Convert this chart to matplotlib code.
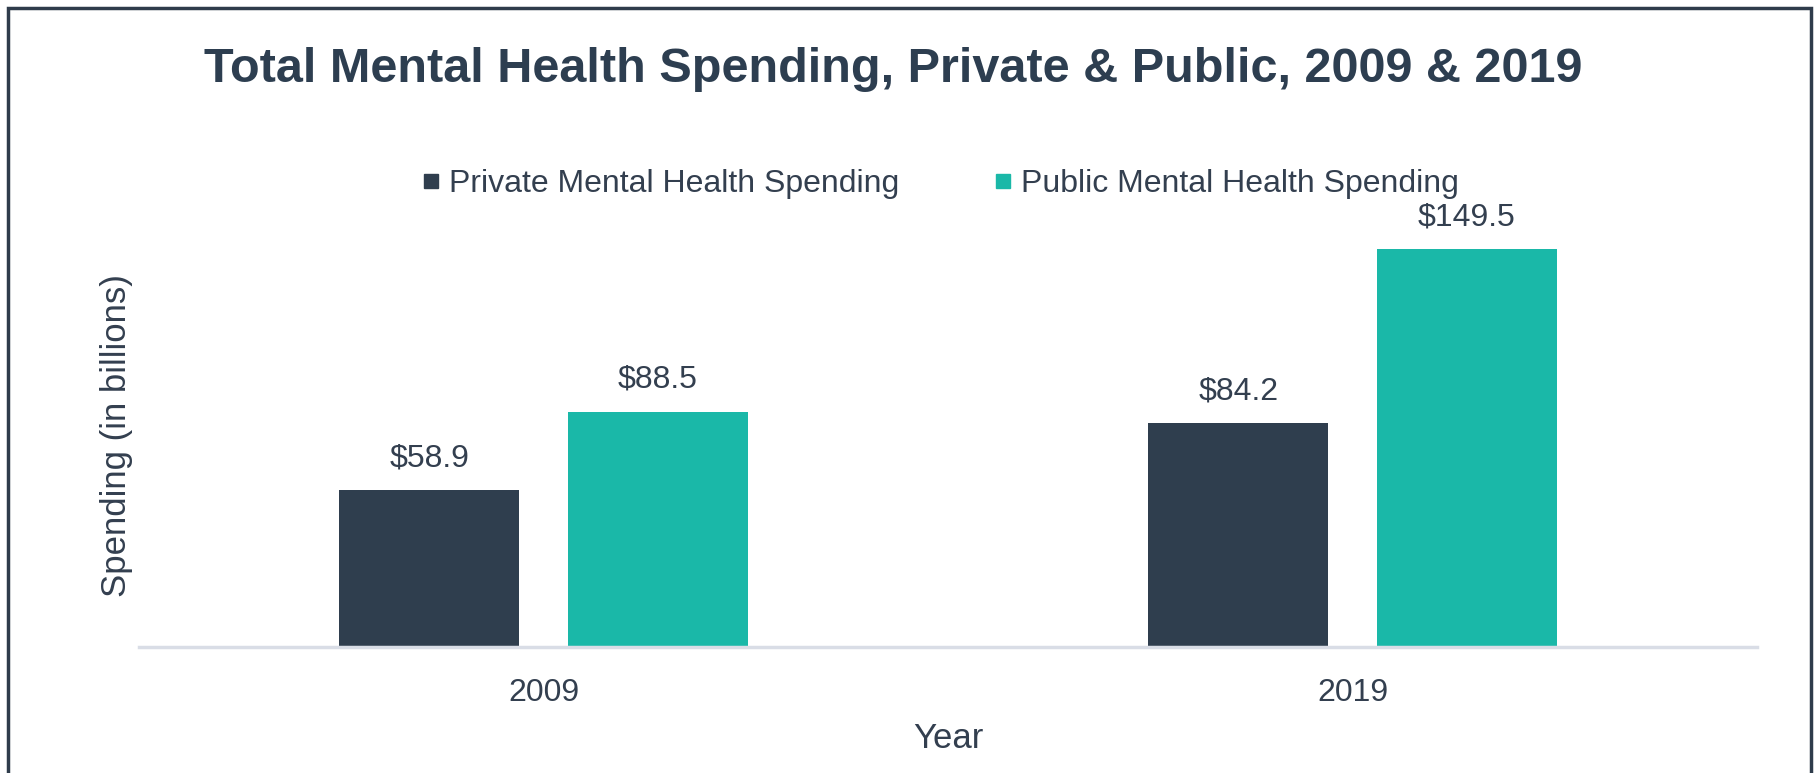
import numpy as np
import matplotlib
matplotlib.use("Agg")
import matplotlib.pyplot as plt
from matplotlib.lines import Line2D
from matplotlib.patches import Rectangle

years = ["2009", "2019"]
private_spending = [58.9, 84.2]
public_spending = [88.5, 149.5]
series_names = ["Private Mental Health Spending", "Public Mental Health Spending"]

DARK = "#2f3e4e"
TEAL = "#1ab8a8"
TEXT = "#333f4f"

plt.rcParams["font.family"] = ["Liberation Sans", "DejaVu Sans"]

def main():
    fig = plt.figure(figsize=(18.19, 7.73), dpi=100)
    W, H = 1819, 773
    ax = fig.add_axes([139 / W, 1 - 647 / H, (1757 - 139) / W, 447 / H])

    x = np.arange(len(years))
    width = 0.2225
    offset = 0.141

    bars_priv = ax.bar(x - offset, private_spending, width, color=DARK)
    bars_pub = ax.bar(x + offset, public_spending, width, color=TEAL)

    for bars in (bars_priv, bars_pub):
        for b in bars:
            ax.annotate(f"${b.get_height():.1f}",
                        (b.get_x() + b.get_width() / 2, b.get_height()),
                        xytext=(0, 12), textcoords="offset points",
                        ha="center", va="bottom", fontsize=23, color=TEXT)

    ax.set_xlim(-0.5, 1.5)
    ax.set_ylim(0, 168)
    ax.set_xticks(x)
    ax.set_xticklabels(years, fontsize=23, color=TEXT)
    ax.tick_params(axis="x", length=0, pad=22)
    ax.set_yticks([])

    for s in ("top", "right", "left"):
        ax.spines[s].set_visible(False)
    ax.spines["bottom"].set_color("#d9dde6")
    ax.spines["bottom"].set_linewidth(2.5)

    ax.set_ylabel("Spending (in billions)", fontsize=25, color=TEXT)
    ax.yaxis.set_label_coords(-0.004, 0.474)
    ax.set_xlabel("Year", fontsize=25, color=TEXT)
    ax.xaxis.set_label_coords(0.5, -0.205)
    ax.xaxis.label.set_va("center")

    fig.text(893 / W, 1 - 70 / H, "Total Mental Health Spending, Private & Public, 2009 & 2019",
             ha="center", va="center", fontsize=35, fontweight="bold", color="#2d3e50")

    handles = [
        Line2D([], [], marker="s", linestyle="none", markersize=10, color=DARK),
        Line2D([], [], marker="s", linestyle="none", markersize=10, color=TEAL),
    ]
    fig.legend(handles, series_names, loc="center", ncol=2,
               bbox_to_anchor=(941 / W, 1 - 184 / H), frameon=False,
               fontsize=23, labelcolor=TEXT, handlelength=0.5,
               handletextpad=0.3, columnspacing=3.0)

    fig.patches.append(Rectangle((8 / W, -0.02), (1811 - 8) / W, 1.02 - 8 / H,
                                 transform=fig.transFigure, fill=False,
                                 edgecolor="#2f3c4b", linewidth=2.5))

    fig.savefig("out.png", dpi=100, facecolor="white")
    plt.close(fig)

if __name__ == "__main__":
    main()
